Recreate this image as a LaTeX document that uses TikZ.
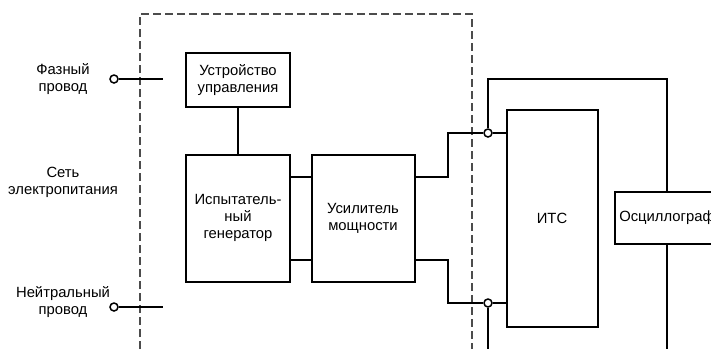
\documentclass[tikz,border=0pt]{standalone}
\usepackage{fontspec}
\setmainfont{Liberation Sans}
\begin{document}
\begin{tikzpicture}[x=1pt, y=-1pt,
    wire/.style={line width=2pt},
    block/.style={draw, line width=2pt, fill=white, align=center, inner sep=0pt,
      font=\fontsize{14.8}{17}\selectfont},
    labeltxt/.style={align=center, font=\fontsize{14.8}{17}\selectfont},
    term/.style={circle, draw, fill=white, line width=1.5pt,
      minimum size=8pt, inner sep=0pt}]

        \useasboundingbox (0,0) rectangle (711,349);
        \clip (0,0) rectangle (711,349);

        % Draw the dashed frame of the tester
        \draw[gray!60!black, line width=1.2pt, dash pattern=on 8pt off 4pt]
          (140,349) -- (140,14) -- (472,14) -- (472,349);

        % Mains labels
        \node[labeltxt] (phasetxt) at (63,79) {Фазный\\провод};
        \node[labeltxt] (mains) at (63,182) {Сеть\\электропитания};
        \node[labeltxt] (neutraltxt) at (63,302) {Нейтральный\\провод};

        % Mains terminals
        \node[term] (phase) at (114,79) {};
        \node[term] (neutral) at (114,307) {};
        \coordinate (phaseend) at (163,79);
        \coordinate (neutralend) at (163,307);
        \draw[wire] (phase) -- (phaseend);
        \draw[wire] (neutral) -- (neutralend);

        % Blocks
        \node[block, minimum width=104pt, minimum height=54pt] (ctrl) at (238,80) {Устройство\\управления};
        \node[block, minimum width=104pt, minimum height=127pt] (gen) at (238,218) {Испытатель-\\ный\\генератор};
        \node[block, minimum width=103pt, minimum height=127pt] (amp) at (363,218) {Усилитель\\мощности};
        \node[block, minimum width=91pt, minimum height=217pt] (its) at (552,218) {ИТС};
        \node[block, minimum width=104pt, minimum height=52pt] (osc) at (667,218) {Осциллограф};

        % Output terminals
        \node[term] (ttop) at (488,133) {};
        \node[term] (tbot) at (488,303) {};
        \coordinate (hi) at (0,177);
        \coordinate (lo) at (0,260);

        % Connections
        \draw[wire] (ctrl) -- (gen);
        \draw[wire] (gen.east |- hi) -- (amp.west |- hi);
        \draw[wire] (gen.east |- lo) -- (amp.west |- lo);
        \draw[wire] (amp.east |- hi) -| (448,133) -- (ttop);
        \draw[wire] (amp.east |- lo) -| (448,303) -- (tbot);
        \draw[wire] (ttop) -- (its.west |- ttop);
        \draw[wire] (tbot) -- (its.west |- tbot);
        \draw[wire] (ttop) -- (488,79) -| (osc.north);
        \draw[wire] (tbot) -- (488,349);
        \draw[wire] (osc.south) -- (667,349);

      \end{tikzpicture}
\end{document}
